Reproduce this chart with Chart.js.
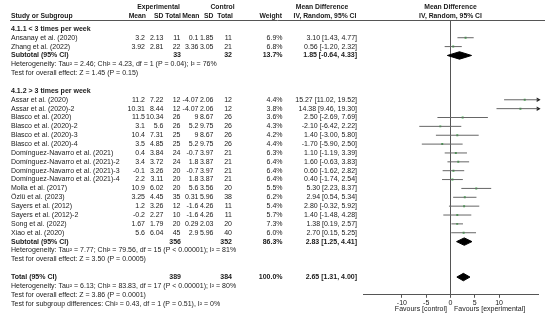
<!DOCTYPE html>
<html>
<head>
<meta charset="utf-8">
<script src="https://cdn.jsdelivr.net/npm/chart.js@4.4.1/dist/chart.umd.min.js"></script>
<style>
  html, body { margin: 0; padding: 0; background: #ffffff; }
  canvas { display: block; }
</style>
</head>
<body>
<canvas id="forest" width="550" height="324"></canvas>
<script>
// ---- data ----
const studies = ['Ansanay et al. (2020)', 'Zhang et al. (2022)',
  'Assar et al. (2020)', 'Assar et al. (2020)-2', 'Blasco et al. (2020)', 'Blasco et al. (2020)-2',
  'Blasco et al. (2020)-3', 'Blasco et al. (2020)-4', 'Domínguez-Navarro et al. (2021)',
  'Domínguez-Navarro et al. (2021)-2', 'Domínguez-Navarro et al. (2021)-3', 'Domínguez-Navarro et al. (2021)-4',
  'Molla et al. (2017)', 'Özlü et al. (2023)', 'Sayers et al. (2012)', 'Sayers et al. (2012)-2',
  'Song et al. (2022)', 'Xiao et al. (2020)'];
const studyGroup = [0, 0, 1, 1, 1, 1, 1, 1, 1, 1, 1, 1, 1, 1, 1, 1, 1, 1];
const expMean = [3.2, 3.92, 11.2, 10.31, 11.5, 3.1, 10.4, 3.5, 0.4, 3.4, -0.1, 2.2, 10.9, 3.25, 1.2, -0.2, 1.67, 5.6];
const expSD = [2.13, 2.81, 7.22, 8.44, 10.34, 5.6, 7.31, 4.85, 3.84, 3.72, 3.26, 3.11, 6.02, 4.45, 3.26, 2.27, 1.79, 6.04];
const expN = [11, 22, 12, 12, 26, 26, 25, 25, 24, 24, 20, 20, 20, 35, 12, 10, 20, 45];
const ctrlMean = [0.1, 3.36, -4.07, -4.07, 9, 5.2, 9, 5.2, -0.7, 1.8, -0.7, 1.8, 5.6, 0.31, -1.6, -1.6, 0.29, 2.9];
const ctrlSD = [1.85, 3.05, 2.06, 2.06, 8.67, 9.75, 8.67, 9.75, 3.97, 3.87, 3.97, 3.87, 3.56, 5.96, 4.26, 4.26, 2.03, 5.96];
const ctrlN = [11, 21, 12, 12, 26, 26, 26, 26, 21, 21, 21, 21, 20, 38, 11, 11, 20, 40];
const weight = [6.9, 6.8, 4.4, 3.8, 3.6, 4.3, 4.2, 4.4, 6.3, 6.4, 6.4, 6.4, 5.5, 6.2, 5.4, 5.7, 7.3, 6.0];
const md = [3.10, 0.56, 15.27, 14.38, 2.50, -2.10, 1.40, -1.70, 1.10, 1.60, 0.60, 0.40, 5.30, 2.94, 2.80, 1.40, 1.38, 2.70];
const ciLow = [1.43, -1.20, 11.02, 9.46, -2.69, -6.42, -3.00, -5.90, -1.19, -0.63, -1.62, -1.74, 2.23, 0.54, -0.32, -1.48, 0.19, 0.15];
const ciHigh = [4.77, 2.32, 19.52, 19.30, 7.69, 2.22, 5.80, 2.50, 3.39, 3.83, 2.82, 2.54, 8.37, 5.34, 5.92, 4.28, 2.57, 5.25];

const groupTitles = ['4.1.1 < 3 times per week', '4.1.2 > 3 times per week'];
const groupExpN = [33, 356];
const groupCtrlN = [32, 352];
const groupWeight = [13.7, 86.3];
const groupMd = [1.85, 2.83];
const groupLow = [-0.64, 1.25];
const groupHigh = [4.33, 4.41];
const groupHet = ['Heterogeneity: Tau² = 2.46; Chi² = 4.23, df = 1 (P = 0.04); I² = 76%',
  'Heterogeneity: Tau² = 7.77; Chi² = 79.56, df = 15 (P < 0.00001); I² = 81%'];
const groupTest = ['Test for overall effect: Z = 1.45 (P = 0.15)',
  'Test for overall effect: Z = 3.50 (P = 0.0005)'];

const totalExpN = 389;
const totalCtrlN = 384;
const totalWeight = 100.0;
const totalMd = 2.65;
const totalLow = 1.31;
const totalHigh = 4.00;
const totalNotes = ['Heterogeneity: Tau² = 6.13; Chi² = 83.83, df = 17 (P < 0.00001); I² = 80%',
  'Test for overall effect: Z = 3.86 (P = 0.0001)',
  'Test for subgroup differences: Chi² = 0.43, df = 1 (P = 0.51), I² = 0%'];

const xTicks = [-10, -5, 0, 5, 10];
const XMIN = -18, XMAX = 18;

const FONT = '"Liberation Sans", Arial, sans-serif';
const TEXT = '#1a1a1a';
const LINE = '#666666';
const MARK = '#3db54a';

// ---- build the row list (one row per line of the table) ----
let rows = [];
for (let g = 0; g < groupTitles.length; g++) {
  rows.push({kind: 'title', text: groupTitles[g]});
  studies.forEach((s, i) => { if (studyGroup[i] === g) rows.push({kind: 'study', i: i}); });
  rows.push({kind: 'sub', label: 'Subtotal (95% CI)', en: groupExpN[g], cn: groupCtrlN[g], w: groupWeight[g],
             md: groupMd[g], lo: groupLow[g], hi: groupHigh[g]});
  rows.push({kind: 'note', text: groupHet[g]});
  rows.push({kind: 'note', text: groupTest[g]});
  rows.push({kind: 'blank'});
}
rows.push({kind: 'sub', label: 'Total (95% CI)', en: totalExpN, cn: totalCtrlN, w: totalWeight,
           md: totalMd, lo: totalLow, hi: totalHigh});
totalNotes.forEach(t => rows.push({kind: 'note', text: t}));

// ---- datasets ----
let datasets = [];
let markers = [];
let arrows = [];
rows.forEach((r, k) => {
  if (r.kind === 'study') {
    const i = r.i;
    datasets.push({type: 'line', data: [{x: ciLow[i], y: k}, {x: ciHigh[i], y: k}],
      borderColor: LINE, borderWidth: 1, pointRadius: 0, fill: false});
    markers.push({x: md[i], y: k});
    if (ciHigh[i] > XMAX) arrows.push({x: XMAX, y: k});
  } else if (r.kind === 'sub') {
    const h = 0.42;
    datasets.push({type: 'line',
      data: [{x: r.lo, y: k}, {x: r.md, y: k - h}, {x: r.hi, y: k}, {x: r.md, y: k + h}, {x: r.lo, y: k}],
      borderColor: '#000', backgroundColor: '#000', borderWidth: 1, pointRadius: 0, fill: 'shape', tension: 0});
  }
});
datasets.push({type: 'scatter', data: markers, pointStyle: 'rect', pointRadius: 1.4,
  backgroundColor: MARK, borderColor: MARK, borderWidth: 0});
datasets.push({type: 'scatter', data: arrows, pointStyle: 'triangle', rotation: 90, pointRadius: 2.6,
  backgroundColor: '#222', borderColor: '#222', borderWidth: 0, clip: false});

// ---- table text ----
function fmtCI(m, lo, hi) {
  return m.toFixed(2) + ' [' + lo.toFixed(2) + ', ' + hi.toFixed(2) + ']';
}

const tablePlugin = {
  id: 'table',
  afterDraw(chart) {
    const ctx = chart.ctx;
    const y = chart.scales.y;
    const x = chart.scales.x;
    const top = chart.chartArea.top;
    const head = '700 6.8px ' + FONT;
    const bold = '700 7px ' + FONT;
    const norm = '400 7px ' + FONT;
    ctx.save();
    ctx.fillStyle = TEXT;
    ctx.textBaseline = 'middle';

    function put(t, px, py, align, font) {
      ctx.font = font;
      ctx.textAlign = align;
      ctx.fillText(t, px, py);
    }

    // header
    const h1 = top - 12.5, h2 = top - 3.8;
    put('Experimental', 158.5, h1, 'center', head);
    put('Control', 222.5, h1, 'center', head);
    put('Mean Difference', 322, h1, 'center', head);
    put('Mean Difference', x.getPixelForValue(0), h1, 'center', head);
    put('Study or Subgroup', 11, h2, 'left', head);
    put('Mean', 146, h2, 'right', head);
    put('SD', 163.5, h2, 'right', head);
    put('Total', 181, h2, 'right', head);
    put('Mean', 199.5, h2, 'right', head);
    put('SD', 213.5, h2, 'right', head);
    put('Total', 233, h2, 'right', head);
    put('Weight', 282, h2, 'right', head);
    put('IV, Random, 95% CI', 325, h2, 'center', head);
    put('IV, Random, 95% CI', x.getPixelForValue(0), h2, 'center', head);

    ctx.strokeStyle = '#555';
    ctx.lineWidth = 1;
    ctx.beginPath();
    ctx.moveTo(10, top + 0.5);
    ctx.lineTo(545, top + 0.5);
    ctx.stroke();

    rows.forEach((r, k) => {
      const py = y.getPixelForValue(k);
      if (r.kind === 'title') {
        put(r.text, 11, py, 'left', bold);
      } else if (r.kind === 'note') {
        put(r.text, 11, py, 'left', norm);
      } else if (r.kind === 'study') {
        const i = r.i;
        put(studies[i], 11, py, 'left', norm);
        put(String(expMean[i]), 145, py, 'right', norm);
        put(String(expSD[i]), 163.5, py, 'right', norm);
        put(String(expN[i]), 180.5, py, 'right', norm);
        put(String(ctrlMean[i]), 198.5, py, 'right', norm);
        put(String(ctrlSD[i]), 213.5, py, 'right', norm);
        put(String(ctrlN[i]), 232, py, 'right', norm);
        put(weight[i].toFixed(1) + '%', 282.5, py, 'right', norm);
        put(fmtCI(md[i], ciLow[i], ciHigh[i]), 357, py, 'right', norm);
      } else if (r.kind === 'sub') {
        put(r.label, 11, py, 'left', bold);
        put(String(r.en), 181, py, 'right', bold);
        put(String(r.cn), 232, py, 'right', bold);
        put(r.w.toFixed(1) + '%', 282.5, py, 'right', bold);
        put(fmtCI(r.md, r.lo, r.hi), 357, py, 'right', bold);
      }
    });

    // favours labels under the axis
    const fy = chart.chartArea.bottom + 14;
    put('Favours [control]', x.getPixelForValue(0) - 3.5, fy, 'right', norm);
    put('Favours [experimental]', x.getPixelForValue(0) + 3.5, fy, 'left', norm);
    ctx.restore();
  }
};

new Chart(document.getElementById('forest'), {
  type: 'scatter',
  data: {datasets: datasets},
  options: {
    responsive: false,
    animation: false,
    events: [],
    layout: {padding: {left: 363, right: 12, top: 20, bottom: 0}},
    plugins: {legend: {display: false}, tooltip: {enabled: false}},
    scales: {
      x: {
        type: 'linear',
        min: XMIN,
        max: XMAX,
        afterBuildTicks: s => { s.ticks = xTicks.map(v => ({value: v})); },
        afterFit: s => { s.height = 29.2; },
        grid: {
          color: c => (c.tick && c.tick.value === 0) ? '#555' : 'rgba(0,0,0,0)',
          tickColor: '#555',
          tickLength: 3,
          lineWidth: 1
        },
        border: {color: '#555', width: 1},
        ticks: {font: {size: 7, family: FONT}, color: TEXT, padding: 1, maxRotation: 0, autoSkip: false}
      },
      y: {
        type: 'linear',
        display: false,
        reverse: true,
        min: -1,
        max: 30
      }
    }
  },
  plugins: [tablePlugin]
});
</script>
</body>
</html>
